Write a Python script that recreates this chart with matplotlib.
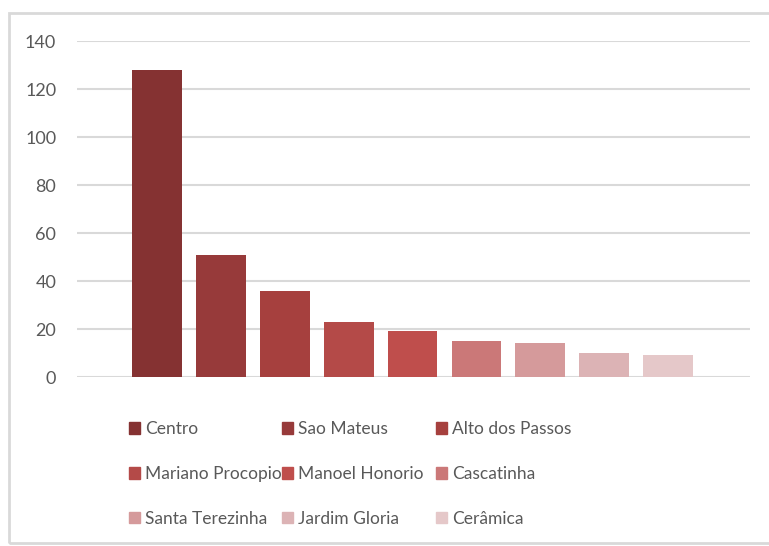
import matplotlib
matplotlib.use('Agg')
import matplotlib.pyplot as plt
from matplotlib.patches import Patch, Rectangle

# data
bairros = ['Centro', 'Sao Mateus', 'Alto dos Passos', 'Mariano Procopio', 'Manoel Honorio',
           'Cascatinha', 'Santa Terezinha', 'Jardim Gloria', 'Cerâmica']
valores = [128, 51, 36, 23, 19, 15, 14, 10, 9]
cores = ['#853232', '#973a3a', '#a6403e', '#b44a48', '#bf4e4c',
         '#cb7878', '#d59a9b', '#dcb3b5', '#e5c8c9']
y_ticks = [0, 20, 40, 60, 80, 100, 120, 140]

plt.rcParams['font.family'] = ['Lato', 'DejaVu Sans']

fig = plt.figure(figsize=(7.69, 5.46), dpi=100)
ax = fig.add_axes([77 / 769, 169 / 546, 673 / 769, 336 / 546])

x = range(len(bairros))
bars = ax.bar(x, valores, width=0.78, color=cores, zorder=3)

ax.set_ylim(0, 140)
ax.set_xlim(-1.25, 9.28)
ax.set_yticks(y_ticks)
ax.set_xticks([])
ax.yaxis.grid(True, color='#d9d9d9', linewidth=1.5, zorder=0)
for s in ax.spines.values():
    s.set_visible(False)
ax.tick_params(axis='y', length=0, pad=15, labelsize=13, labelcolor='#595959')

# legend: 3 columns of equal width, filled row by row like the original
col_x = [129, 282, 436]
for c in range(3):
    idx = [c, c + 3, c + 6]
    leg = fig.legend([Patch(color=cores[i]) for i in idx], [bairros[i] for i in idx],
                     loc='upper left', bbox_to_anchor=(col_x[c] / 769, 1 - 421 / 546),
                     frameon=False, fontsize=12.5, handlelength=0.65, handleheight=0.65,
                     handletextpad=0.3, labelspacing=1.66, borderpad=0, borderaxespad=0,
                     labelcolor='#595959')

# outer frame of the chart area
fig.patches.append(Rectangle((9 / 769, 3 / 546), 1.2, 530 / 546, transform=fig.transFigure,
                             fill=False, edgecolor='#d9d9d9', linewidth=2))

plt.savefig('out.png', dpi=100)
